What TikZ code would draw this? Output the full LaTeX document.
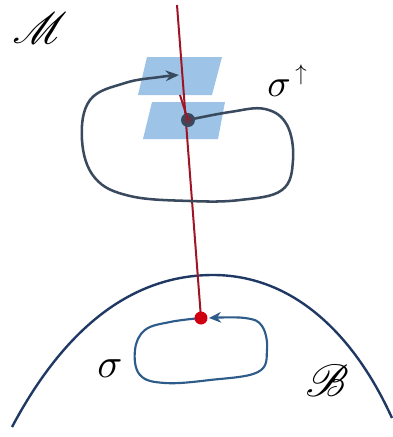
\documentclass[tikz,border=0pt]{standalone}
\usepackage{mathrsfs}
\usetikzlibrary{arrows.meta}
\definecolor{plane}{HTML}{9DC3E6}
\definecolor{loopdark}{HTML}{3A4A5E}
\definecolor{arcnavy}{HTML}{1F3864}
\definecolor{loopblue}{HTML}{2E5C8A}
\definecolor{fibre}{HTML}{A01525}
\definecolor{dotred}{HTML}{D00010}
\tikzset{
  planebox/.style={fill=plane, draw=none},
  lbl/.style={inner sep=0pt, text=black, transform shape},
}
\begin{document}
\begin{tikzpicture}[x=0.75pt,y=-0.75pt]
\useasboundingbox (0,0) rectangle (393,437);
% tangent planes
\fill[planebox] (147,57) -- (222,57) -- (212,95) -- (138,95) -- cycle;
\fill[planebox] (152,102) -- (225,102) -- (218,139) -- (143,139) -- cycle;
% base boundary arc
\draw[arcnavy, line width=1.8pt] (12,427) .. controls (70,318) and (140,275) .. (213,275) .. controls (290,275) and (352,330) .. (392,418);
% named points
\coordinate (top) at (177,5);
\coordinate (p) at (201,318);
\coordinate (q) at (188,120);
% fibre
\draw[fibre, line width=1.5pt] (top) -- (p);
% lifted loop
\draw[loopdark, line width=1.9pt, -{Stealth[length=10pt,width=8pt]}] plot[smooth, tension=0.65] coordinates {(q) (230,112) (265,109) (287,125) (293,160) (282,190) (240,200) (190,201) (130,196) (95,178) (82,140) (90,100) (125,83) (160,77) (179,75)};
\fill[loopdark] (q) circle (7);
\draw[fibre, line width=1.5pt] (180,95) -- (q);
\fill[fibre!70!loopdark, opacity=0.5] (q) circle (4);
% base loop
\draw[loopblue, line width=1.6pt, -{Stealth[length=9pt,width=8pt]}] plot[smooth, tension=0.65] coordinates {(p) (170,322) (145,330) (135,350) (140,375) (165,383) (210,380) (258,372) (267,350) (262,326) (245,318) (209,318)};
\fill[dotred] (p) circle (6.5);
% labels
\node[lbl, scale=3.3] (Mlab) at (40,28) {$\mathscr{M}$};
\node[lbl, scale=3.4] (Blab) at (327,381) {$\mathscr{B}$};
\node[lbl, scale=2.9] (s1) at (279,88) {$\sigma$};
\node[lbl, scale=1.7] (up) at (301,75) {$\uparrow$};
\node[lbl, scale=3.1] (s0) at (110,369) {$\sigma$};
\end{tikzpicture}
\end{document}
